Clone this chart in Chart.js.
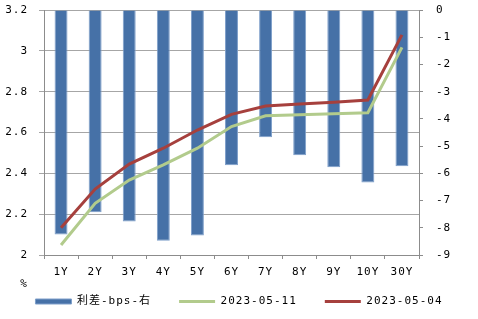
<!DOCTYPE html>
<html>
<head>
<meta charset="utf-8">
<script src="https://cdn.jsdelivr.net/npm/chart.js@4/dist/chart.umd.min.js"></script>
<style>
  html, body { margin: 0; padding: 0; background: #fff; }
  canvas { display: block; }
</style>
</head>
<body>
<canvas id="chart" width="478" height="319"></canvas>
<script>
// 期限
const categories = ['1Y', '2Y', '3Y', '4Y', '5Y', '6Y', '7Y', '8Y', '9Y', '10Y', '30Y'];
// 利差 (bps, 右轴)
const spreadBps = [-8.25, -7.43, -7.77, -8.48, -8.28, -5.70, -4.67, -5.34, -5.78, -6.34, -5.74];
// 收益率 (%, 左轴)
const yield0511 = [2.049, 2.253, 2.367, 2.441, 2.523, 2.629, 2.682, 2.687, 2.692, 2.697, 3.017];
const yield0504 = [2.134, 2.323, 2.445, 2.523, 2.612, 2.689, 2.730, 2.740, 2.748, 2.759, 3.078];
// 轴范围
const leftAxis = { min: 2, max: 3.2, step: 0.2 };
const rightAxis = { min: -9, max: 0, step: 1 };

const FONT = { family: "'DejaVu Sans Mono', 'Noto Sans CJK SC', monospace", size: 11 };
const AXIS_COLOR = '#8c8c8c';
const GRID_COLOR = '#a6a6a6';

// 文字间距，模仿原图较宽的字距
const letterSpacing = {
  id: 'letterSpacing',
  beforeUpdate(chart) { chart.ctx.letterSpacing = '1px'; },
  beforeLayout(chart) { chart.ctx.letterSpacing = '1px'; },
  // x 轴高度被压缩了，放宽标签的裁剪区域
  afterLayout(chart) { chart.scales.x.bottom = chart.height; },
  beforeDraw(chart) { chart.ctx.letterSpacing = '1px'; }
};

// 左下角的单位 "%"
const unitLabel = {
  id: 'unitLabel',
  afterDraw(chart) {
    const ctx = chart.ctx;
    ctx.save();
    ctx.font = FONT.size + 'px ' + FONT.family;
    ctx.fillStyle = '#000';
    ctx.textAlign = 'center';
    ctx.textBaseline = 'middle';
    ctx.fillText('%', chart.chartArea.left - 20, chart.chartArea.bottom + 29);
    ctx.restore();
  }
};

// 纵轴宽度固定，不额外占用上下空间
function fixY(width) {
  return s => {
    s.width = width;
    s.paddingTop = 0;
    s.paddingBottom = 0;
  };
}

Chart.defaults.font.family = FONT.family;
Chart.defaults.font.size = FONT.size;
Chart.defaults.color = '#000';

new Chart(document.getElementById('chart'), {
  data: {
    labels: categories,
    datasets: [
      {
        type: 'bar',
        label: '利差-bps-右',
        data: spreadBps,
        yAxisID: 'y1',
        backgroundColor: '#4671a7',
        borderColor: '#7e9fca',
        borderWidth: 1,
        barPercentage: 0.38,
        categoryPercentage: 1,
        pointStyle: 'rect',
        order: 2
      },
      {
        type: 'line',
        label: '2023-05-11',
        data: yield0511,
        yAxisID: 'y',
        borderColor: '#b2cb8c',
        borderWidth: 3,
        pointRadius: 0,
        tension: 0,
        pointStyle: 'line',
        order: 1
      },
      {
        type: 'line',
        label: '2023-05-04',
        data: yield0504,
        yAxisID: 'y',
        borderColor: '#a6403d',
        borderWidth: 3,
        pointRadius: 0,
        tension: 0,
        pointStyle: 'line',
        order: 0
      }
    ]
  },
  options: {
    responsive: false,
    animation: false,
    layout: { padding: { top: 10, left: 0, right: 0, bottom: 2 } },
    plugins: {
      tooltip: { enabled: false },
      legend: {
        position: 'bottom',
        labels: {
          usePointStyle: true,
          pointStyleWidth: 36,
          boxHeight: 5,
          padding: 28,
          color: '#000',
          font: FONT,
          sort: (a, b) => a.datasetIndex - b.datasetIndex
        }
      }
    },
    scales: {
      x: {
        grid: { offset: true, drawOnChartArea: false, tickLength: 4, color: AXIS_COLOR },
        border: { color: AXIS_COLOR },
        ticks: { padding: 7, font: FONT, color: '#000', maxRotation: 0, autoSkip: false },
        afterFit: s => { s.height = 13; }
      },
      y: {
        position: 'left',
        min: leftAxis.min,
        max: leftAxis.max,
        grid: { color: GRID_COLOR, tickLength: 5 },
        border: { color: AXIS_COLOR },
        ticks: {
          stepSize: leftAxis.step,
          padding: 11,
          font: FONT,
          color: '#000',
          callback: v => String(Number(v.toFixed(1)))
        },
        afterFit: fixY(44)
      },
      y1: {
        position: 'right',
        min: rightAxis.min,
        max: rightAxis.max,
        grid: { drawOnChartArea: false, tickLength: 4, color: AXIS_COLOR },
        border: { color: AXIS_COLOR },
        ticks: { stepSize: rightAxis.step, padding: 13, font: FONT, color: '#000' },
        afterFit: fixY(59)
      }
    }
  },
  plugins: [letterSpacing, unitLabel]
});
</script>
</body>
</html>
